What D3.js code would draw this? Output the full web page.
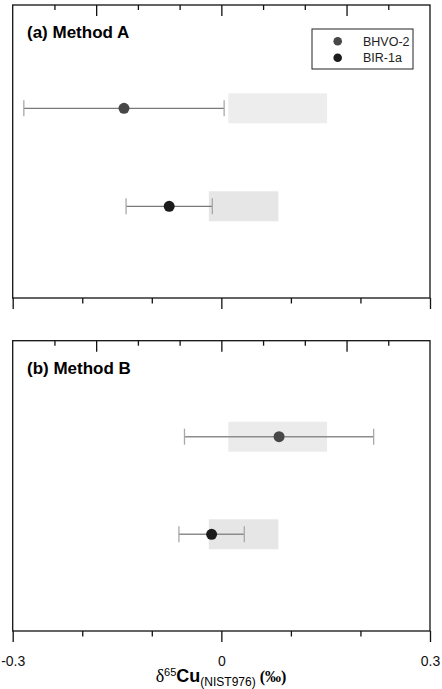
<!DOCTYPE html>
<html>
<head>
<meta charset="utf-8">
<script src="https://cdn.jsdelivr.net/npm/d3@7"></script>
<style>
  body { margin: 0; background: #fff; }
  svg { display: block; font-family: "Liberation Sans", Arial, sans-serif; }
</style>
</head>
<body>
<script>
//width and height
var w = 442;
var h = 689;

//data
var samples = ["BHVO-2", "BIR-1a"];
var sampleColors = ["#474747", "#1c1c1c"];

//method A: mean with error bar ends
var meanA = [-0.140, -0.075];
var lowA = [-0.284, -0.137];
var highA = [0.004, -0.013];

//method B
var meanB = [0.083, -0.014];
var lowB = [-0.053, -0.061];
var highB = [0.219, 0.033];

//reference ranges (grey boxes)
var refLow = [0.010, -0.018];
var refHigh = [0.152, 0.082];

//tick values
var xTicks = [-0.3, -0.2, -0.1, 0, 0.1, 0.2, 0.3];
var xLabels = [-0.3, 0, 0.3];
var topTicks = [-4, -3, -2, -1, 0, 1, 2, 3, 4];
var topMajor = [-3, 0, 3];

var panelTitles = ["(a) Method A", "(b) Method B"];

//x scale shared by both panels
var x = d3.scaleLinear()
          .domain([-0.3, 0.3])
          .range([12.7, 430]);

//secondary top scale (just the tick marks)
var xTop = d3.scaleLinear()
             .domain([-5, 5])
             .range([12.7, 430]);

var svg = d3.select("body")
            .append("svg")
            .attr("width", w)
            .attr("height", h);

var panels = [
    {top: 5, bottom: 298, y0: 10.3, y3: 304.3, mean: meanA, low: lowA, high: highA,
     boxFill: ["#ededed", "#e6e6e6"], barColor: "#7a7a7a", barWidth: 1.2, labels: false},
    {top: 340.7, bottom: 631, y0: 339.1, y3: 631.9, mean: meanB, low: lowB, high: highB,
     boxFill: ["#ebebeb", "#e6e6e6"], barColor: "#8c8c8c", barWidth: 1.5, labels: true}
];

panels.forEach(function(p, pi) {
    var g = svg.append("g");

    //category positions (index 1 and 2 of 0..3)
    var y = d3.scaleLinear().domain([0, 3]).range([p.y0, p.y3]);

    //reference boxes
    g.selectAll("rect.ref")
        .data(samples)
        .enter()
        .append("rect")
        .attr("class", "ref")
        .attr("x", function(d, i) { return x(refLow[i]); })
        .attr("width", function(d, i) { return x(refHigh[i]) - x(refLow[i]); })
        .attr("y", function(d, i) { return y(i + 1) - 15; })
        .attr("height", 30)
        .style("fill", function(d, i) { return p.boxFill[i]; });

    //error bar lines
    g.selectAll("line.err")
        .data(samples)
        .enter()
        .append("line")
        .attr("x1", function(d, i) { return x(p.low[i]); })
        .attr("x2", function(d, i) { return x(p.high[i]); })
        .attr("y1", function(d, i) { return y(i + 1); })
        .attr("y2", function(d, i) { return y(i + 1); })
        .style("stroke", p.barColor)
        .style("stroke-width", p.barWidth);

    //caps
    samples.forEach(function(s, i) {
        [p.low[i], p.high[i]].forEach(function(v) {
            g.append("line")
                .attr("x1", x(v)).attr("x2", x(v))
                .attr("y1", y(i + 1) - 8).attr("y2", y(i + 1) + 8)
                .style("stroke", "#a8a8a8")
                .style("stroke-width", 1.3);
        });
    });

    //dots
    g.selectAll("circle")
        .data(samples)
        .enter()
        .append("circle")
        .attr("cx", function(d, i) { return x(p.mean[i]); })
        .attr("cy", function(d, i) { return y(i + 1); })
        .attr("r", 5.5)
        .style("fill", function(d, i) { return sampleColors[i]; });

    //frame
    g.append("rect")
        .attr("x", x(-0.3))
        .attr("y", p.top)
        .attr("width", x(0.3) - x(-0.3))
        .attr("height", p.bottom - p.top)
        .style("fill", "none")
        .style("stroke", "#111")
        .style("stroke-width", 1.3);

    //bottom axis
    var bottomAxis = d3.axisBottom(x)
                       .tickValues(xTicks)
                       .tickSizeInner(11)
                       .tickSizeOuter(0)
                       .tickPadding(14)
                       .tickFormat(function(d) {
                           if (!p.labels || xLabels.indexOf(d) < 0) return "";
                           return d === 0 ? "0" : (d < 0 ? "-" : "") + Math.abs(d).toFixed(1);
                       });
    var bAx = g.append("g")
               .attr("transform", "translate(0," + p.bottom + ")")
               .call(bottomAxis);
    bAx.select(".domain").remove();
    bAx.selectAll(".tick line")
        .attr("y2", function(d) { return xLabels.indexOf(d) >= 0 ? 11 : 5.5; })
        .style("stroke", "#111")
        .style("stroke-width", 1.3);
    bAx.selectAll(".tick text")
        .style("font-family", "Liberation Sans, Arial, sans-serif")
        .style("font-size", "14px")
        .style("fill", "#111");

    //top axis: inward ticks only
    var topAxis = d3.axisTop(xTop)
                    .tickValues(topTicks)
                    .tickSizeInner(-5)
                    .tickSizeOuter(0)
                    .tickFormat("");
    var tAx = g.append("g")
               .attr("transform", "translate(0," + p.top + ")")
               .call(topAxis);
    tAx.select(".domain").remove();
    tAx.selectAll(".tick line")
        .attr("y2", function(d) { return topMajor.indexOf(d) >= 0 ? 11 : 5; })
        .style("stroke", "#111")
        .style("stroke-width", 1.3);

    //panel title
    g.append("text")
        .attr("x", 27)
        .attr("y", p.top + 33)
        .style("font-size", "17px")
        .style("font-weight", "bold")
        .style("fill", "#000")
        .text(panelTitles[pi]);
});

//legend in panel a
var legend = svg.append("g");
legend.append("rect")
    .attr("x", 312).attr("y", 29)
    .attr("width", 101).attr("height", 40)
    .style("fill", "#fff")
    .style("stroke", "#222")
    .style("stroke-width", 1);

legend.selectAll("circle")
    .data(samples)
    .enter()
    .append("circle")
    .attr("cx", 337.7)
    .attr("cy", function(d, i) { return 41.3 + i * 16.4; })
    .attr("r", 4.3)
    .style("fill", function(d, i) { return sampleColors[i]; });

legend.selectAll("text")
    .data(samples)
    .enter()
    .append("text")
    .attr("x", 363)
    .attr("y", function(d, i) { return 45.6 + i * 16.4; })
    .style("font-size", "12.5px")
    .style("fill", "#222")
    .text(function(d) { return d; });

//x axis title
var title = svg.append("text")
    .attr("x", 221)
    .attr("y", 682)
    .attr("text-anchor", "middle")
    .style("fill", "#000");
title.append("tspan")
    .style("font-family", "Liberation Serif, serif")
    .style("font-size", "18px")
    .text("δ");
title.append("tspan")
    .attr("dy", -6)
    .style("font-size", "11px")
    .text("65");
title.append("tspan")
    .attr("dy", 6)
    .style("font-size", "18px")
    .style("font-weight", "bold")
    .text("Cu");
title.append("tspan")
    .attr("dy", 4)
    .style("font-size", "12px")
    .text("(NIST976)");
title.append("tspan")
    .attr("dy", -4)
    .style("font-family", "Liberation Serif, serif")
    .style("font-size", "16px")
    .style("font-weight", "bold")
    .text(" (‰)");
</script>
</body>
</html>
